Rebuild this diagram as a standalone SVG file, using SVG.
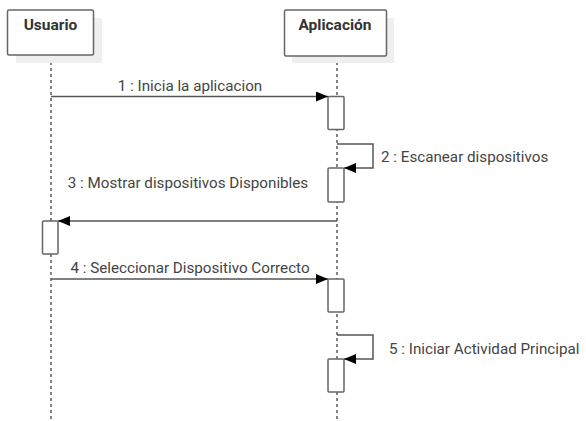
<svg xmlns="http://www.w3.org/2000/svg" width="586" height="421" viewBox="0 0 586 421">
<defs>
<marker id="arr" markerWidth="12" markerHeight="10" refX="12" refY="5" orient="auto" markerUnits="userSpaceOnUse">
<path d="M0,0 L12,5 L0,10 Z" fill="#000"/>
</marker>
<style>
.shadow{fill:#efefef;stroke:none}
.head{fill:#fff;stroke:#666;stroke-width:1.5}
.title{font-family:Roboto,"Liberation Sans",sans-serif;font-size:15.5px;font-weight:bold;fill:#333;text-anchor:middle}
.life{stroke:#333;stroke-width:1.2;stroke-dasharray:3 3;fill:none}
.act{fill:#fff;stroke:#666;stroke-width:1.5}
.msg{stroke:#555;stroke-width:1.5;fill:none}
.lbl{font-family:Roboto,"Liberation Sans",sans-serif;font-size:15.2px;fill:#444}
</style>
</defs>
<rect width="586" height="421" fill="#fff"/>
<g id="lifelines">
<line class="life" x1="51" y1="56" x2="51" y2="421"/>
<line class="life" x1="337" y1="56" x2="337" y2="421"/>
</g>
<g id="usuario">
<rect class="shadow" x="16" y="18" width="86" height="45"/>
<rect class="head" x="7.5" y="10" width="86" height="45" rx="1.5"/>
<text class="title" x="50.5" y="30">Usuario</text>
</g>
<g id="aplicacion">
<rect class="shadow" x="292" y="18" width="102" height="45"/>
<rect class="head" x="284.5" y="10" width="102" height="46" rx="1.5"/>
<text class="title" x="335" y="30">Aplicación</text>
</g>
<g id="activations">
<rect class="act" x="328" y="96.5" width="16" height="33" rx="1"/>
<rect class="act" x="328" y="168" width="16" height="34" rx="1"/>
<rect class="act" x="42.5" y="221" width="15.5" height="33" rx="1"/>
<rect class="act" x="328" y="279" width="16" height="33" rx="1"/>
<rect class="act" x="328" y="359" width="16" height="33" rx="1"/>
</g>
<g id="connectors">
<line class="msg" x1="51" y1="96.5" x2="328" y2="96.5" marker-end="url(#arr)"/>
<polyline class="msg" points="337,144 373,144 373,168 344,168" marker-end="url(#arr)"/>
<line class="msg" x1="337" y1="221" x2="58" y2="221" marker-end="url(#arr)"/>
<line class="msg" x1="51" y1="279" x2="328" y2="279" marker-end="url(#arr)"/>
<polyline class="msg" points="337,335 373,335 373,359 344,359" marker-end="url(#arr)"/>
</g>
<g id="labels">
<text class="lbl" x="190" y="91" text-anchor="middle">1 : Inicia la aplicacion</text>
<text class="lbl" x="381" y="162">2 : Escanear dispositivos</text>
<text class="lbl" x="188" y="188" text-anchor="middle">3 : Mostrar dispositivos Disponibles</text>
<text class="lbl" x="190" y="273" text-anchor="middle">4 : Seleccionar Dispositivo Correcto</text>
<text class="lbl" x="389" y="354">5 : Iniciar Actividad Principal</text>
</g>
</svg>
